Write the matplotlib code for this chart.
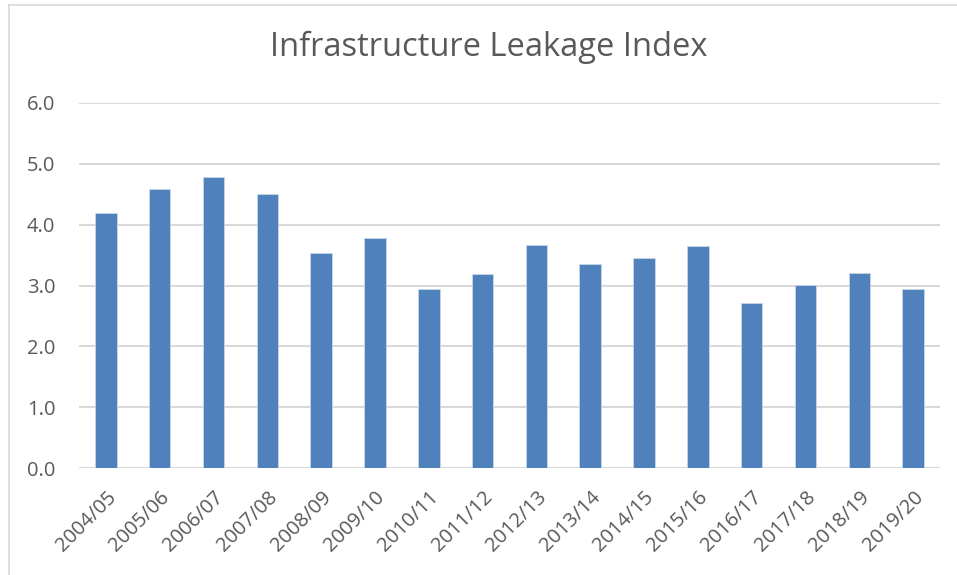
import matplotlib.pyplot as plt
import matplotlib
from matplotlib.lines import Line2D
import numpy as np

# data
years = ['2004/05', '2005/06', '2006/07', '2007/08', '2008/09', '2009/10',
         '2010/11', '2011/12', '2012/13', '2013/14', '2014/15', '2015/16',
         '2016/17', '2017/18', '2018/19', '2019/20']
ili = [4.20, 4.58, 4.78, 4.51, 3.53, 3.78, 2.94, 3.19,
       3.67, 3.36, 3.46, 3.65, 2.72, 3.01, 3.21, 2.95]
yticks = [0, 1, 2, 3, 4, 5, 6]

plt.rcParams['font.family'] = ['Open Sans', 'DejaVu Sans']
txt = '#595959'
grid = '#D9D9D9'

fig = plt.figure(figsize=(9.57, 5.75), dpi=100)
ax = fig.add_axes([79/957, 107/575, (940-79)/957, (472-107)/575])

x = np.arange(len(years))
ax.bar(x, ili, width=0.4, color='#4F81BD', edgecolor='#C9D7EA', linewidth=0.6, zorder=3)

ax.set_xlim(-0.5, len(years) - 0.5)
ax.set_ylim(0, 6)
ax.set_yticks(yticks)
ax.set_yticklabels([f"{v:.1f}" for v in yticks], fontsize=14.5, color=txt)
ax.set_xticks(x)
ax.set_xticklabels(years, rotation=45, ha='right', rotation_mode='anchor',
                   fontsize=14.5, color=txt)
ax.tick_params(length=0)
ax.tick_params(axis='y', pad=17)
ax.tick_params(axis='x', pad=14)

ax.grid(axis='y', color=grid, linewidth=1.5, zorder=0)
for s in ax.spines.values():
    s.set_visible(False)

fig.text(489/957, 1 - 47/575, "Infrastructure Leakage Index", ha='center', va='center',
         fontsize=23.5, color=txt)

# chart frame (cropped at right/bottom)
fig.add_artist(Line2D([8.5/957, 8.5/957], [0, 1 - 4.5/575], color=grid, linewidth=1.2))
fig.add_artist(Line2D([8.5/957, 1], [1 - 4.5/575, 1 - 4.5/575], color=grid, linewidth=1.2))

fig.savefig('out.png', dpi=100)
